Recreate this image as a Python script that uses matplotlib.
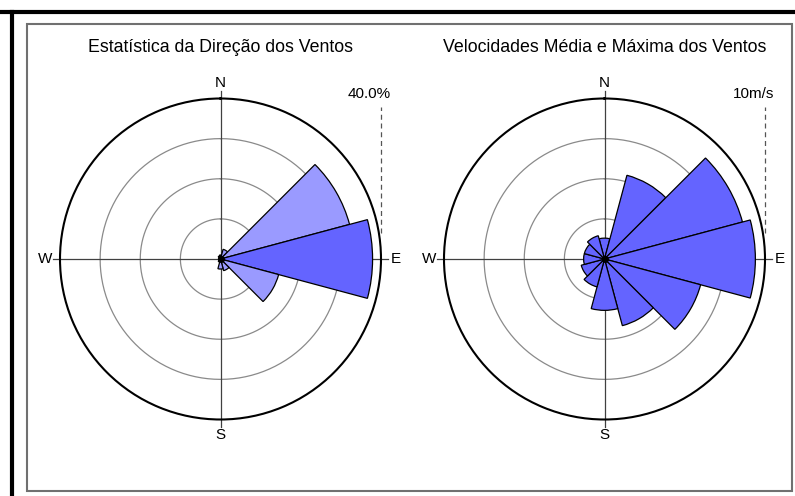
import numpy as np
import matplotlib
matplotlib.use("Agg")
import matplotlib.pyplot as plt
from matplotlib.lines import Line2D
from matplotlib.patches import Rectangle

plt.rcParams['font.family'] = ['Liberation Sans', 'DejaVu Sans']

# 12 sectors, centres in compass degrees
sectors = [0, 30, 60, 90, 120, 150, 180, 210, 240, 270, 300, 330]
freq_pct = [1.0, 2.5, 33.3, 37.9, 15.0, 3.0, 2.5, 0.8, 0.5, 0.5, 0.5, 0.8]
speed_ms = [1.3, 5.4, 8.9, 9.4, 6.2, 4.3, 3.2, 1.8, 1.5, 1.3, 1.3, 1.5]
titles = ["Estatística da Direção dos Ventos", "Velocidades Média e Máxima dos Ventos"]
scale_labels = ["40.0%", "10m/s"]
rmax = [40, 10]
cardinals = ["N", "E", "S", "W"]

W, H = 795, 496
fig = plt.figure(figsize=(W / 100, H / 100), dpi=100)

# frames
fig.add_artist(Line2D([0, 1], [1 - 12 / H, 1 - 12 / H], color='black', lw=3, transform=fig.transFigure))
fig.add_artist(Line2D([12 / W, 12 / W], [0, 1 - 12 / H], color='black', lw=3, transform=fig.transFigure))
fig.add_artist(Rectangle((27 / W, 1 - 491 / H), (792 - 27) / W, (491 - 24) / H, fill=False,
                         edgecolor='#707070', lw=1.5, transform=fig.transFigure))

centres = [(220.5, 259), (604.5, 259)]
R = 160.5


def rose(cx, cy, values, top, colors, title, slabel):
    ax = fig.add_axes([(cx - R) / W, (H - cy - R) / H, 2 * R / W, 2 * R / H], projection='polar')
    ax.set_theta_zero_location('N')
    ax.set_theta_direction(-1)
    ax.set_ylim(0, top)
    ax.grid(False)
    ax.set_xticks([])
    ax.set_yticks([])
    ax.spines['polar'].set_linewidth(1.5)
    ax.spines['polar'].set_color('black')
    t = np.linspace(0, 2 * np.pi, 361)
    for k in (0.25, 0.5, 0.75):
        ax.plot(t, np.full_like(t, k * top), color='#8a8a8a', lw=0.9, zorder=1)
    ext = top * 1.045
    for a in (0, np.pi / 2):
        ax.plot([a, a + np.pi], [ext, ext], color='#404040', lw=0.9, zorder=1, clip_on=False)
    ax.bar(np.deg2rad(sectors), values, width=np.deg2rad(30), color=colors,
           edgecolor='black', lw=0.9, zorder=3)
    ax.plot([0], [0], 'o', color='black', ms=4, zorder=4)
    for i, lab in enumerate(cardinals):
        ax.text(np.deg2rad(90 * i), top * 1.095, lab, ha='center', va='center', fontsize=11)
    ax.plot([1.0, 1.0], [0.58, 0.975], transform=ax.transAxes, color='#555555', lw=0.9,
            ls=(0, (4, 3)), clip_on=False)
    ax.text(0.963, 1.014, slabel, transform=ax.transAxes, ha='center', va='center', fontsize=11)
    fig.text(cx / W, 1 - 47 / H, title, ha='center', va='center', fontsize=12.8)
    return ax


vmax = max(freq_pct)
left_colors = ['#6464ff' if v == vmax else '#9a9aff' for v in freq_pct]
rose(*centres[0], freq_pct, rmax[0], left_colors, titles[0], scale_labels[0])
rose(*centres[1], speed_ms, rmax[1], '#6464ff', titles[1], scale_labels[1])

fig.savefig("out.png", dpi=100)
